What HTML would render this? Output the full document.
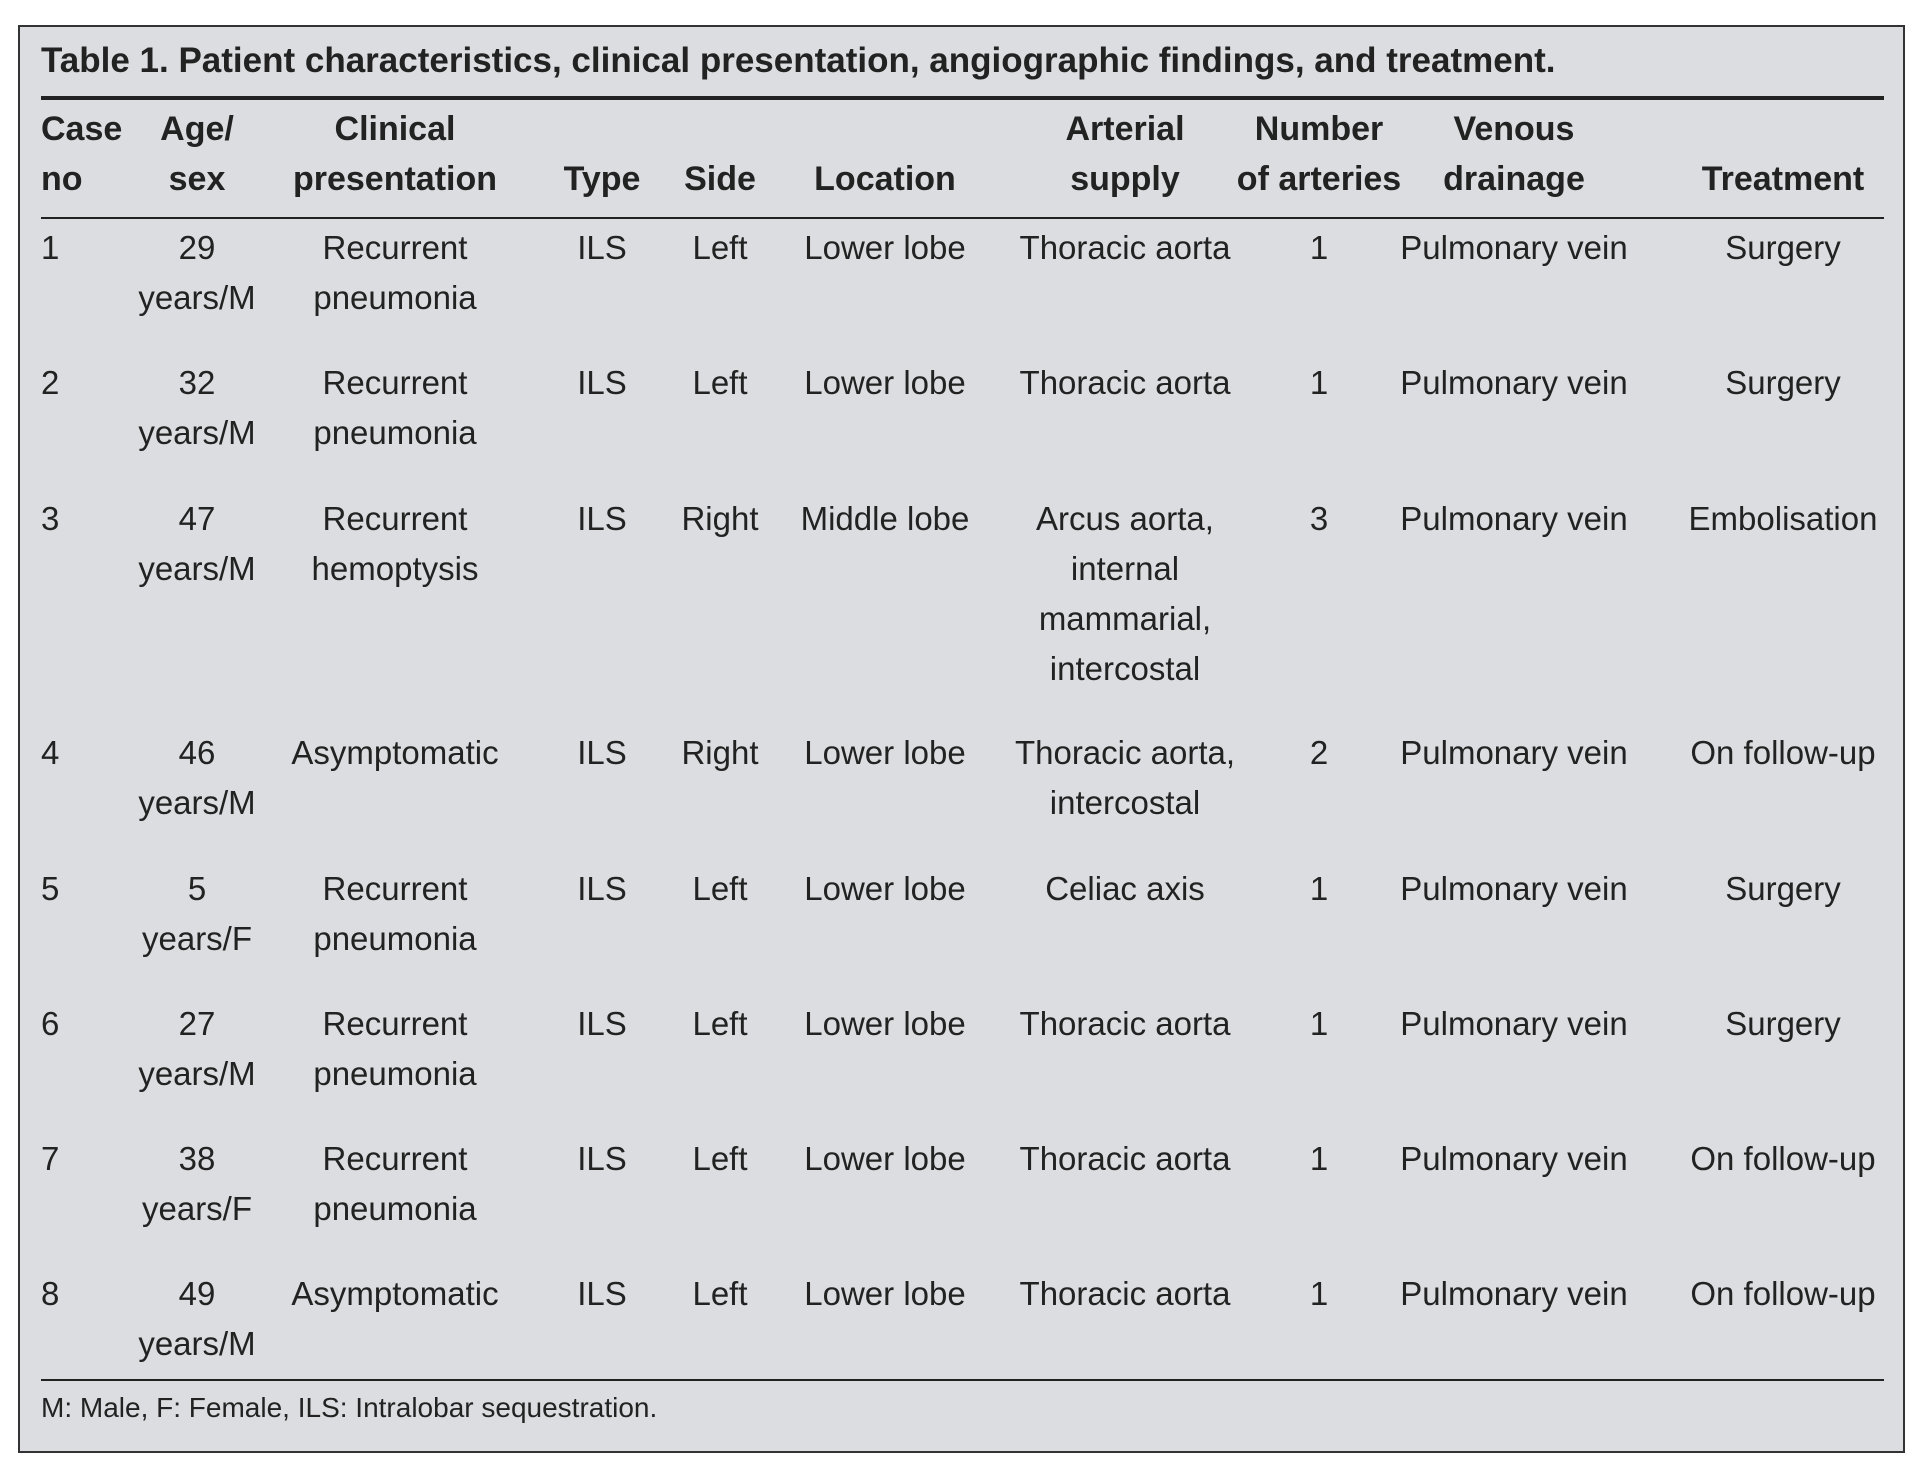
<!DOCTYPE html>
<html><head><meta charset="utf-8"><style>
html,body{margin:0;padding:0;background:#fff;}
body{width:1927px;height:1479px;position:relative;overflow:hidden;font-family:"Liberation Sans",sans-serif;color:#222;}
#box{position:absolute;left:18px;top:25px;width:1883px;height:1424px;background:#dcdde0;border:2px solid #333;}
.t{position:absolute;white-space:nowrap;font-size:33px;line-height:50px;text-align:center;transform:translateX(-50%);}
.l{transform:none;text-align:left;}
.h{font-weight:bold;font-size:34px;}
.r{position:absolute;left:41px;width:1843px;background:#222;}
</style></head><body>
<div id="box"></div>
<div class="t l h" style="left:41px;top:38px;font-size:35px;line-height:46px;">Table 1. Patient characteristics, clinical presentation, angiographic findings, and treatment.</div>
<div class="r" style="top:96px;height:4px;"></div>
<div class="r" style="top:217px;height:2px;"></div>
<div class="r" style="top:1379px;height:2px;"></div>

<div class="t l h" style="left:41px;top:104px;">Case<br>no</div>
<div class="t h" style="left:197px;top:104px;">Age/<br>sex</div>
<div class="t h" style="left:395px;top:104px;">Clinical<br>presentation</div>
<div class="t h" style="left:602px;top:154px;">Type</div>
<div class="t h" style="left:720px;top:154px;">Side</div>
<div class="t h" style="left:885px;top:154px;">Location</div>
<div class="t h" style="left:1125px;top:104px;">Arterial<br>supply</div>
<div class="t h" style="left:1319px;top:104px;">Number<br>of arteries</div>
<div class="t h" style="left:1514px;top:104px;">Venous<br>drainage</div>
<div class="t h" style="left:1783px;top:154px;">Treatment</div>

<div class="t l" style="left:41px;top:223px;">1</div>
<div class="t" style="left:197px;top:223px;">29<br>years/M</div>
<div class="t" style="left:395px;top:223px;">Recurrent<br>pneumonia</div>
<div class="t" style="left:602px;top:223px;">ILS</div>
<div class="t" style="left:720px;top:223px;">Left</div>
<div class="t" style="left:885px;top:223px;">Lower lobe</div>
<div class="t" style="left:1125px;top:223px;">Thoracic aorta</div>
<div class="t" style="left:1319px;top:223px;">1</div>
<div class="t" style="left:1514px;top:223px;">Pulmonary vein</div>
<div class="t" style="left:1783px;top:223px;">Surgery</div>

<div class="t l" style="left:41px;top:358px;">2</div>
<div class="t" style="left:197px;top:358px;">32<br>years/M</div>
<div class="t" style="left:395px;top:358px;">Recurrent<br>pneumonia</div>
<div class="t" style="left:602px;top:358px;">ILS</div>
<div class="t" style="left:720px;top:358px;">Left</div>
<div class="t" style="left:885px;top:358px;">Lower lobe</div>
<div class="t" style="left:1125px;top:358px;">Thoracic aorta</div>
<div class="t" style="left:1319px;top:358px;">1</div>
<div class="t" style="left:1514px;top:358px;">Pulmonary vein</div>
<div class="t" style="left:1783px;top:358px;">Surgery</div>

<div class="t l" style="left:41px;top:494px;">3</div>
<div class="t" style="left:197px;top:494px;">47<br>years/M</div>
<div class="t" style="left:395px;top:494px;">Recurrent<br>hemoptysis</div>
<div class="t" style="left:602px;top:494px;">ILS</div>
<div class="t" style="left:720px;top:494px;">Right</div>
<div class="t" style="left:885px;top:494px;">Middle lobe</div>
<div class="t" style="left:1125px;top:494px;">Arcus aorta,<br>internal<br>mammarial,<br>intercostal</div>
<div class="t" style="left:1319px;top:494px;">3</div>
<div class="t" style="left:1514px;top:494px;">Pulmonary vein</div>
<div class="t" style="left:1783px;top:494px;">Embolisation</div>

<div class="t l" style="left:41px;top:728px;">4</div>
<div class="t" style="left:197px;top:728px;">46<br>years/M</div>
<div class="t" style="left:395px;top:728px;">Asymptomatic</div>
<div class="t" style="left:602px;top:728px;">ILS</div>
<div class="t" style="left:720px;top:728px;">Right</div>
<div class="t" style="left:885px;top:728px;">Lower lobe</div>
<div class="t" style="left:1125px;top:728px;">Thoracic aorta,<br>intercostal</div>
<div class="t" style="left:1319px;top:728px;">2</div>
<div class="t" style="left:1514px;top:728px;">Pulmonary vein</div>
<div class="t" style="left:1783px;top:728px;">On follow-up</div>

<div class="t l" style="left:41px;top:864px;">5</div>
<div class="t" style="left:197px;top:864px;">5<br>years/F</div>
<div class="t" style="left:395px;top:864px;">Recurrent<br>pneumonia</div>
<div class="t" style="left:602px;top:864px;">ILS</div>
<div class="t" style="left:720px;top:864px;">Left</div>
<div class="t" style="left:885px;top:864px;">Lower lobe</div>
<div class="t" style="left:1125px;top:864px;">Celiac axis</div>
<div class="t" style="left:1319px;top:864px;">1</div>
<div class="t" style="left:1514px;top:864px;">Pulmonary vein</div>
<div class="t" style="left:1783px;top:864px;">Surgery</div>

<div class="t l" style="left:41px;top:999px;">6</div>
<div class="t" style="left:197px;top:999px;">27<br>years/M</div>
<div class="t" style="left:395px;top:999px;">Recurrent<br>pneumonia</div>
<div class="t" style="left:602px;top:999px;">ILS</div>
<div class="t" style="left:720px;top:999px;">Left</div>
<div class="t" style="left:885px;top:999px;">Lower lobe</div>
<div class="t" style="left:1125px;top:999px;">Thoracic aorta</div>
<div class="t" style="left:1319px;top:999px;">1</div>
<div class="t" style="left:1514px;top:999px;">Pulmonary vein</div>
<div class="t" style="left:1783px;top:999px;">Surgery</div>

<div class="t l" style="left:41px;top:1134px;">7</div>
<div class="t" style="left:197px;top:1134px;">38<br>years/F</div>
<div class="t" style="left:395px;top:1134px;">Recurrent<br>pneumonia</div>
<div class="t" style="left:602px;top:1134px;">ILS</div>
<div class="t" style="left:720px;top:1134px;">Left</div>
<div class="t" style="left:885px;top:1134px;">Lower lobe</div>
<div class="t" style="left:1125px;top:1134px;">Thoracic aorta</div>
<div class="t" style="left:1319px;top:1134px;">1</div>
<div class="t" style="left:1514px;top:1134px;">Pulmonary vein</div>
<div class="t" style="left:1783px;top:1134px;">On follow-up</div>

<div class="t l" style="left:41px;top:1269px;">8</div>
<div class="t" style="left:197px;top:1269px;">49<br>years/M</div>
<div class="t" style="left:395px;top:1269px;">Asymptomatic</div>
<div class="t" style="left:602px;top:1269px;">ILS</div>
<div class="t" style="left:720px;top:1269px;">Left</div>
<div class="t" style="left:885px;top:1269px;">Lower lobe</div>
<div class="t" style="left:1125px;top:1269px;">Thoracic aorta</div>
<div class="t" style="left:1319px;top:1269px;">1</div>
<div class="t" style="left:1514px;top:1269px;">Pulmonary vein</div>
<div class="t" style="left:1783px;top:1269px;">On follow-up</div>

<div class="t l" style="left:41px;top:1390px;font-size:28px;line-height:36px;">M: Male, F: Female, ILS: Intralobar sequestration.</div>
</body></html>
